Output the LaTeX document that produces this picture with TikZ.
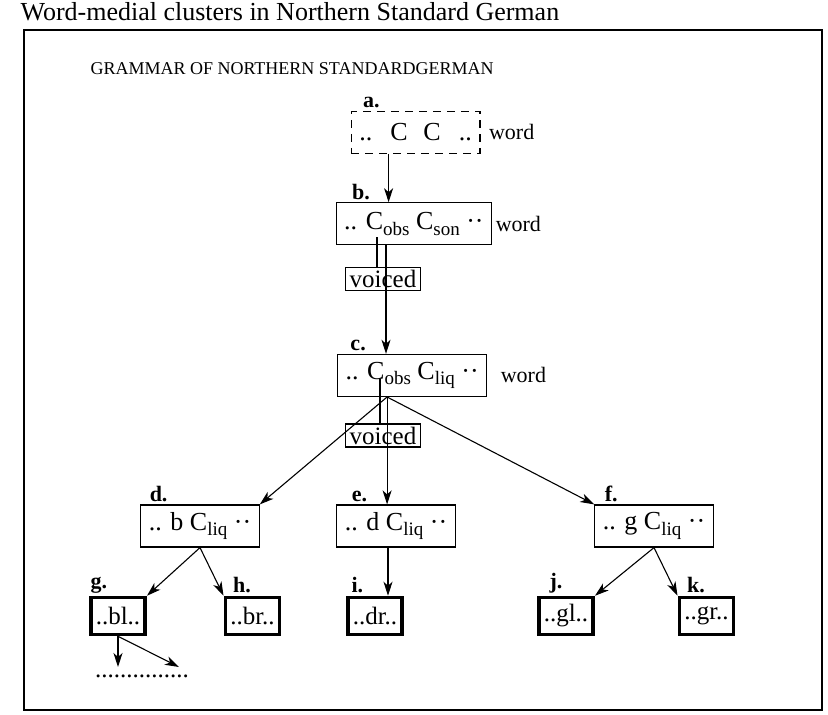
\documentclass[tikz,border=0pt]{standalone}
\usepackage{fontspec}
\setmainfont{Liberation Serif}
\usetikzlibrary{arrows.meta,positioning}
\newcommand{\sbs}[1]{\raisebox{-0.22em}{\fontsize{19}{19}\selectfont #1}}

\begin{document}
\begin{tikzpicture}[x=1pt,y=-1pt,>={Stealth[length=14pt,width=9pt,inset=4pt]},line width=1.1pt,node distance=8pt,
    box/.style={draw,line width=1.2pt,inner xsep=8pt,minimum height=42pt,font=\fontsize{26}{30}\selectfont},
    leaf/.style={draw,line width=3.5pt,inner xsep=5pt,minimum height=37pt,font=\fontsize{25}{30}\selectfont},
    feat/.style={draw,line width=1.2pt,inner xsep=4pt,inner ysep=1pt,minimum height=23pt,font=\fontsize{25}{26}\selectfont},
    lbl/.style={inner sep=0pt,font=\bfseries\fontsize{22}{24}\selectfont},
    wrd/.style={inner sep=0pt,font=\fontsize{22}{24}\selectfont}]
\useasboundingbox (0,0) rectangle (828,715);
\node[anchor=base west,inner sep=0pt,font=\fontsize{26}{30}\selectfont] (title) at (20,20) {Word-medial clusters in Northern Standard German};
\draw[line width=1.4pt] (24,30) rectangle (822,710);
\node[anchor=base west,inner sep=0pt,font=\fontsize{18}{22}\selectfont] (grammar) at (90,74) {GRAMMAR OF NORTHERN STANDARDGERMAN};

% boxes
\node[box,dash pattern=on 8pt off 6pt] (a) at (415.6,132.3) {..\hspace{0.7em}C\hspace{0.6em}C\hspace{0.7em}..};
\node[box] (b) at (413.9,223.8) {.. C\sbs{obs} C\sbs{son} ··};
\node[feat] (v1) at (383,279.3) {voiced};
\node[box] (c) at (412.1,375.4) {.. C\sbs{obs} C\sbs{liq} ··};
\node[feat] (v2) at (383,435.5) {voiced};
\node[box] (d) at (200,526) {.. b C\sbs{liq} ··};
\node[box] (e) at (396,526) {.. d C\sbs{liq} ··};
\node[box] (f) at (654,526) {.. g C\sbs{liq} ··};
\node[leaf] (g) at (118,616) {..bl..};
\node[leaf] (h) at (252.5,616) {..br..};
\node[leaf] (i) at (375,616) {..dr..};
\node[leaf] (j) at (566,616) {..gl..};
\node[leaf] (k) at (706.5,616) {..gr..};
\node[inner sep=0pt,font=\fontsize{25}{28}\selectfont] (dots) at (142,676) {...............};

\node[wrd,right=8pt of a] (aw) {word};
\node[wrd,right=3pt of b] (bw) {word};
\node[wrd,right=13pt of c] (cw) {word};

% labels
\node[lbl,above right=2pt and 12pt of a.north west] (la) {a.};
\node[lbl,above right=2pt and 16pt of b.north west] (lb) {b.};
\node[lbl,above right=2pt and 13pt of c.north west] (lc) {c.};
\node[lbl,above right=2pt and 9pt of d.north west] (ld) {d.};
\node[lbl,above right=2pt and 15pt of e.north west] (le) {e.};
\node[lbl,above right=2pt and 10pt of f.north west] (lf) {f.};
\node[lbl,above right=2pt and 1pt of g.north west] (lg) {g.};
\node[lbl,above right=2pt and 9pt of h.north west] (lh) {h.};
\node[lbl,above right=2pt and 5pt of i.north west] (li) {i.};
\node[lbl,above right=2pt and 12pt of j.north west] (lj) {j.};
\node[lbl,above right=2pt and 9pt of k.north west] (lk) {k.};

% connectors
\coordinate (cfoot) at ([xshift=-25pt]c.south);
\coordinate (gdown) at (117,667);
\coordinate (gright) at (179,667);
\draw[->] ([xshift=-27pt]a.south) -- ([xshift=-27pt]a.south |- b.north);
\draw ([xshift=-6pt]v1.north) -- ([xshift=-6pt,yshift=8pt]v1.north |- b.south);
\draw[->] ([xshift=3pt]v1.north |- b.south) -- ([xshift=3pt]v1.north |- c.north);
\draw ([xshift=-3pt]v2.north) -- ([xshift=-3pt,yshift=-4pt]v2.north |- c.center);
\draw[->] (cfoot) -- (d.north east);
\draw[->] (cfoot) -- (cfoot |- e.north);
\draw[->] (cfoot) -- (f.north west);
\draw[->] ([xshift=-8pt]e.south) -- ([xshift=-8pt]e.south |- i.north);
\draw[->] (d.south) -- (g.north east);
\draw[->] (d.south) -- (h.north west);
\draw[->] (f.south) -- (j.north east);
\draw[->] (f.south) -- (k.north west);
\draw[->] (g.south) -- (g.south |- gdown);
\draw[->] (g.south) -- (gright);
\end{tikzpicture}
\end{document}
